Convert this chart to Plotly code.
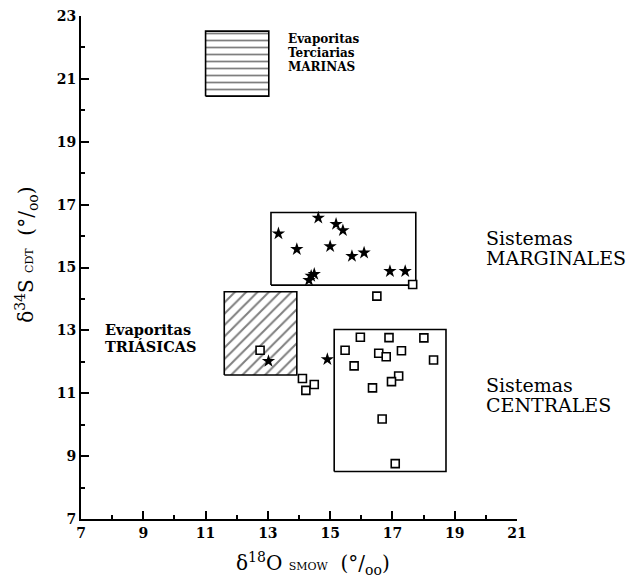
import plotly.graph_objects as go

# ---- data ----
star_x = [13.34, 14.62, 15.19, 15.41, 13.93, 15.00, 15.70, 16.09, 16.92, 17.41, 14.49, 14.39, 14.32, 13.02, 14.91]
star_y = [16.08, 16.58, 16.38, 16.18, 15.58, 15.67, 15.36, 15.47, 14.88, 14.88, 14.79, 14.73, 14.60, 12.02, 12.08]

sq_x = [17.65, 16.50, 12.75, 14.11, 14.49, 14.22, 15.97, 16.89, 18.01, 15.48, 17.29, 16.56, 16.80, 18.32,
        15.77, 17.20, 16.97, 16.36, 16.67, 17.09]
sq_y = [14.46, 14.09, 12.37, 11.47, 11.28, 11.09, 12.78, 12.77, 12.76, 12.37, 12.35, 12.27, 12.16, 12.06,
        11.87, 11.55, 11.37, 11.17, 10.18, 8.76]

# boxes: [x0, x1, y0, y1]
box_marinas = [11.0, 13.03, 20.45, 22.52]
box_triasicas = [11.6, 13.93, 11.58, 14.23]
box_marginales = [13.1, 17.75, 14.44, 16.75]
box_centrales = [15.13, 18.72, 8.51, 13.03]

x_ticks = [7, 9, 11, 13, 15, 17, 19, 21]
y_ticks = [7, 9, 11, 13, 15, 17, 19, 21, 23]

SERIF = "DejaVu Serif"


def rect(b):
    x0, x1, y0, y1 = b
    return [x0, x1, x1, x0, x0], [y0, y0, y1, y1, y0]


fig = go.Figure()

bx, by = rect(box_marinas)
fig.add_trace(go.Scatter(x=bx, y=by, mode="lines", fill="toself",
                         fillcolor="white",
                         fillpattern=dict(shape="-", size=7, solidity=0.25, fgcolor="black", bgcolor="white"),
                         line=dict(color="black", width=1.6), hoverinfo="skip", showlegend=False))
bx, by = rect(box_triasicas)
fig.add_trace(go.Scatter(x=bx, y=by, mode="lines", fill="toself",
                         fillcolor="white",
                         fillpattern=dict(shape="/", size=8, solidity=0.25, fgcolor="black", bgcolor="white"),
                         line=dict(color="black", width=1.6), hoverinfo="skip", showlegend=False))
for b in (box_marginales, box_centrales):
    bx, by = rect(b)
    fig.add_trace(go.Scatter(x=bx, y=by, mode="lines", line=dict(color="black", width=1.6),
                             hoverinfo="skip", showlegend=False))

fig.add_trace(go.Scatter(x=sq_x, y=sq_y, mode="markers",
                         marker=dict(symbol="square", size=8, color="white",
                                     line=dict(color="black", width=1.6)),
                         showlegend=False))
fig.add_trace(go.Scatter(x=star_x, y=star_y, mode="markers",
                         marker=dict(symbol="star", size=10, color="black",
                                     line=dict(width=0)),
                         showlegend=False))

ann = []


def txt(x, y, s, size, bold=True, xref="x", yref="y", angle=0, xanchor="left"):
    ann.append(dict(x=x, y=y, xref=xref, yref=yref, text=s, showarrow=False,
                    xanchor=xanchor, yanchor="middle", textangle=angle,
                    font=dict(family=SERIF, size=size, color="black",
                              weight="bold" if bold else "normal")))


txt(13.58, 22.26, "Evaporitas", 12)
txt(13.58, 21.82, "Terciarias", 12)
txt(13.58, 21.38, "MARINAS", 12)
txt(7.70, 13.04, "Evaporitas", 14.5)
txt(7.70, 12.50, "TRIÁSICAS", 14.5)
txt(19.93, 15.93, "Sistemas", 19, bold=False)
txt(19.93, 15.30, "MARGINALES", 19, bold=False)
txt(19.93, 11.26, "Sistemas", 19, bold=False)
txt(19.93, 10.62, "CENTRALES", 19, bold=False)

txt(0.532, -0.088, "δ<sup>18</sup>O <span style='font-size:11px'>SMOW</span>  (°/<sub>oo</sub>)",
    20, bold=False, xref="paper", yref="paper", xanchor="center")
txt(-0.124, 0.525, "δ<sup>34</sup>S <span style='font-size:11px'>CDT</span>  (°/<sub>oo</sub>)",
    20, bold=False, xref="paper", yref="paper", angle=-90, xanchor="center")

axis_common = dict(showgrid=False, zeroline=False, showline=True, linecolor="black", linewidth=2,
                   ticks="inside", ticklen=8, tickwidth=1.5, tickcolor="black",
                   tickfont=dict(family=SERIF, size=14, color="black", weight="bold"),
                   mirror=False)

fig.update_xaxes(range=[7, 21], tickmode="array", tickvals=x_ticks,
                 ticktext=["<b>%d</b>" % v for v in x_ticks],
                 minor=dict(ticks="inside", ticklen=4, tickwidth=1.5, tickcolor="black",
                            tickvals=[8, 10, 12, 14, 16, 18, 20]),
                 **axis_common)
fig.update_yaxes(range=[7, 23], tickmode="array", tickvals=y_ticks,
                 ticktext=["<b>%d</b>" % v for v in y_ticks],
                 minor=dict(ticks="inside", ticklen=4, tickwidth=1.5, tickcolor="black",
                            tickvals=[8, 10, 12, 14, 16, 18, 20, 22]),
                 **axis_common)

fig.update_layout(width=640, height=580,
                  margin=dict(l=81, r=123, t=16, b=61, autoexpand=False),
                  plot_bgcolor="white", paper_bgcolor="white",
                  annotations=ann, showlegend=False)

fig.write_html("out.html", config={"displayModeBar": False},
               post_script="document.body.style.margin='0';document.body.style.overflow='hidden';")
